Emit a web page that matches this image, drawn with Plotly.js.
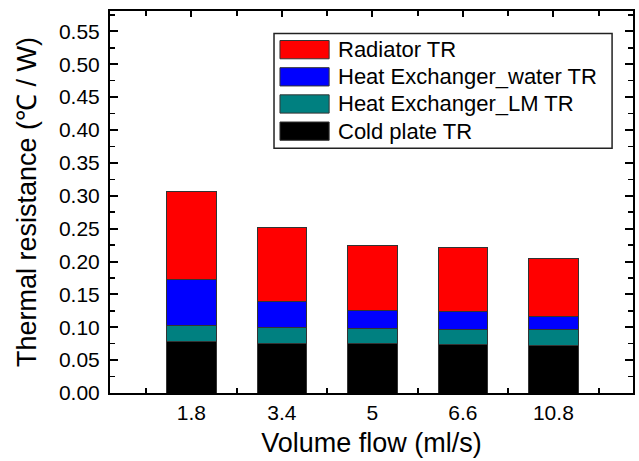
<!DOCTYPE html>
<html>
<head>
<meta charset="utf-8">
<script src="https://cdn.plot.ly/plotly-3.0.1.min.js"></script>
<style>html,body{margin:0;padding:0;background:#fff;}#chart{width:639px;height:461px;}</style>
</head>
<body>
<div id="chart"></div>
<script>
// ---- data ----
var flows = ["1.8", "3.4", "5", "6.6", "10.8"];
var coldPlate = [0.079, 0.076, 0.075, 0.074, 0.073];
var hxLM = [0.023, 0.023, 0.023, 0.023, 0.023];
var hxWater = [0.071, 0.040, 0.027, 0.027, 0.021];
var radiator = [0.134, 0.113, 0.099, 0.097, 0.088];
var seriesNames = ["Cold plate TR", "Heat Exchanger_LM TR", "Heat Exchanger_water TR", "Radiator TR"];
var seriesColors = ["#000000", "#008080", "#0000FF", "#FF0000"];
var seriesValues = [coldPlate, hxLM, hxWater, radiator];

var FONT = "Liberation Sans, Arial, sans-serif";
var pos = flows.map(function (f, i) { return i; });
var traces = seriesValues.map(function (v, i) {
  return {
    type: "bar", x: pos, y: v, name: seriesNames[i],
    width: 0.55,
    marker: {color: seriesColors[i], line: {color: "#333333", width: 1}},
    showlegend: false, hoverinfo: "skip"
  };
});

// custom legend (large swatches), top entry first
var shapes = [], annotations = [];
var lx0 = 0.3136, lx1 = 0.96, ly1 = 0.941, ly0 = 0.6405;
shapes.push({type: "rect", xref: "paper", yref: "paper", x0: lx0, x1: lx1, y0: ly0, y1: ly1,
  line: {color: "#222", width: 1.5}, fillcolor: "#fff", layer: "above"});
var order = [3, 2, 1, 0];
var rowH = 27.2 / 382.5, swH = 18.3 / 382.5, firstC = (393 - 49.2) / 382.5;
order.forEach(function (si, r) {
  var c = firstC - r * rowH;
  shapes.push({type: "rect", xref: "paper", yref: "paper", x0: 0.325, x1: 0.419,
    y0: c - swH / 2, y1: c + swH / 2, fillcolor: seriesColors[si],
    line: {color: "#333", width: 1}, layer: "above"});
  annotations.push({xref: "paper", yref: "paper", x: 0.432, y: c, xanchor: "left", yanchor: "middle",
    text: seriesNames[si], showarrow: false, font: {family: FONT, size: 22, color: "#000"}});
});

var layout = {
  width: 639, height: 461,
  margin: {l: 110, r: 6, t: 10.5, b: 68},
  paper_bgcolor: "#fff", plot_bgcolor: "#fff",
  barmode: "stack",
  showlegend: false,
  font: {family: FONT, color: "#000"},
  xaxis: {
    range: [-0.9, 4.88], tickmode: "array", tickvals: pos, ticktext: flows,
    ticks: "inside", ticklen: 6, tickwidth: 2, tickcolor: "#000",
    minor: {tick0: -0.5, dtick: 1, ticks: "inside", ticklen: 5, tickwidth: 2, tickcolor: "#000"},
    showline: true, linewidth: 2, linecolor: "#000", mirror: "allticks",
    showgrid: false, zeroline: false,
    tickfont: {family: FONT, size: 21, color: "#000"},
    title: {text: "Volume flow (ml/s)", font: {family: FONT, size: 27, color: "#000"}, standoff: 10}
  },
  yaxis: {
    range: [0, 0.581], dtick: 0.05, tick0: 0, tickformat: ".2f",
    ticks: "inside", ticklen: 8, tickwidth: 2, tickcolor: "#000",
    minor: {dtick: 0.025, ticks: "inside", ticklen: 5, tickwidth: 1.5, tickcolor: "#000"},
    showline: true, linewidth: 2, linecolor: "#000", mirror: "allticks",
    showgrid: false, zeroline: false, ticklabelstandoff: 4,
    tickfont: {family: FONT, size: 21, color: "#000"},
    title: {text: "Thermal resistance (℃ / W)", font: {family: FONT, size: 27, color: "#000"}, standoff: 14}
  },
  shapes: shapes,
  annotations: annotations
};

Plotly.newPlot("chart", traces, layout, {displayModeBar: false, staticPlot: true});
</script>
</body>
</html>
